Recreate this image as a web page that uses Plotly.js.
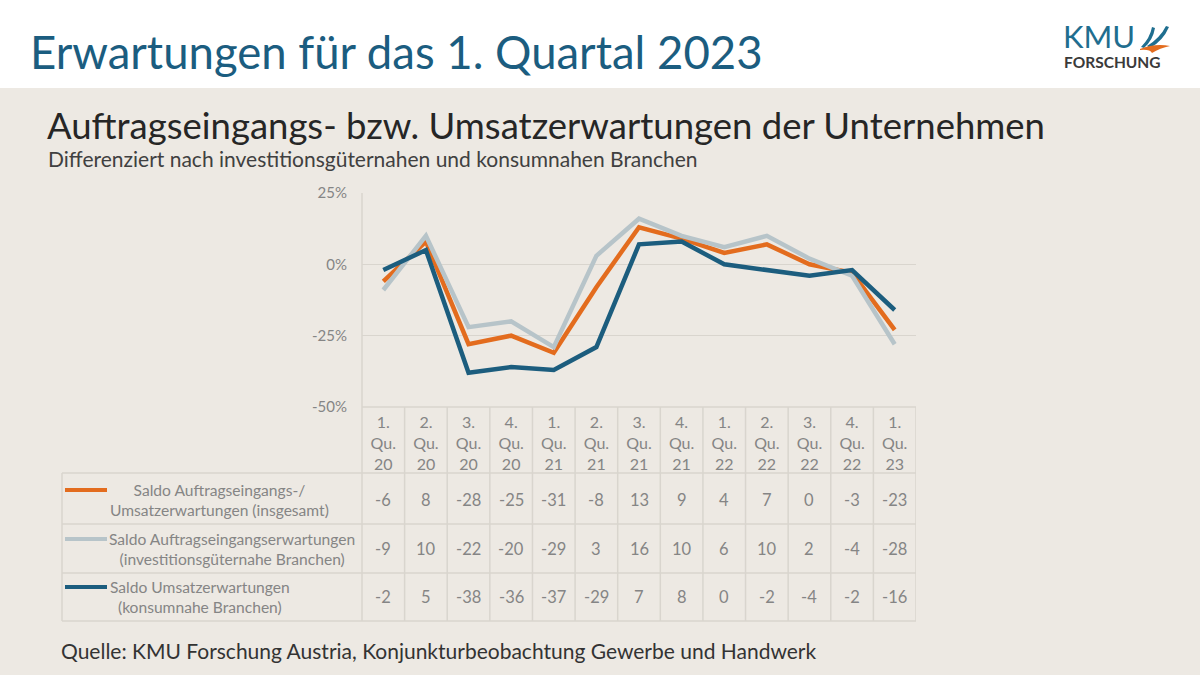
<!DOCTYPE html>
<html>
<head>
<meta charset="utf-8">
<script src="https://cdn.plot.ly/plotly-3.0.1.min.js"></script>
<style>
html,body{margin:0;padding:0;background:#ffffff;}
#chart{width:1200px;height:675px;}
</style>
</head>
<body>
<div id="chart"></div>
<script>
// ---- data ----
const quarters = ["1.<br>Qu.<br>20","2.<br>Qu.<br>20","3.<br>Qu.<br>20","4.<br>Qu.<br>20",
                  "1.<br>Qu.<br>21","2.<br>Qu.<br>21","3.<br>Qu.<br>21","4.<br>Qu.<br>21",
                  "1.<br>Qu.<br>22","2.<br>Qu.<br>22","3.<br>Qu.<br>22","4.<br>Qu.<br>22",
                  "1.<br>Qu.<br>23"];
const saldoGesamt = [-6, 8, -28, -25, -31, -8, 13, 9, 4, 7, 0, -3, -23];
const saldoInvest = [-9, 10, -22, -20, -29, 3, 16, 10, 6, 10, 2, -4, -28];
const saldoKonsum = [-2, 5, -38, -36, -37, -29, 7, 8, 0, -2, -4, -2, -16];
const seriesNames = [
  "Saldo Auftragseingangs-/<br>Umsatzerwartungen (insgesamt)",
  "Saldo Auftragseingangserwartungen<br>(investitionsgüternahe Branchen)",
  "Saldo Umsatzerwartungen<br>(konsumnahe Branchen)"
];
const yTicks = [-50, -25, 0, 25];
const yTickText = ["-50%", "-25%", "0%", "25%"];

// ---- styles ----
const W = 1200, H = 675;
const px = x => x / W;
const py = y => 1 - y / H;
const colors = ["#E36C1E", "#B7C4C9", "#1C5D7E"];
const series = [saldoGesamt, saldoInvest, saldoKonsum];
const gridCol = "#D9D5CE";
const txtGray = "#858585";
const font = "Lato, 'Open Sans', sans-serif";

const traces = series.map((s, i) => ({
  type: "scatter", mode: "lines",
  x: quarters, y: s, name: seriesNames[i],
  line: {color: colors[i], width: 4.5},
  hoverinfo: "skip", cliponaxis: false
}));

const shapes = [];
const annotations = [];

// background band
shapes.push({type:"rect", xref:"paper", yref:"paper", x0:0, x1:1, y0:0, y1:py(88),
  fillcolor:"#EDE9E3", line:{width:0}, layer:"below"});

// table horizontal lines
const rowLines = [473, 524, 573, 621];
rowLines.forEach(y => shapes.push({type:"line", xref:"paper", yref:"paper",
  x0:px(62), x1:px(916), y0:py(y), y1:py(y), line:{color:gridCol, width:1.5}}));
shapes.push({type:"line", xref:"paper", yref:"paper", x0:px(362), x1:px(916), y0:py(407), y1:py(407),
  line:{color:gridCol, width:1.5}});
shapes.push({type:"line", xref:"paper", yref:"paper", x0:px(62), x1:px(62), y0:py(473), y1:py(621),
  line:{color:gridCol, width:1.5}});
shapes.push({type:"line", xref:"paper", yref:"paper", x0:px(362), x1:px(362), y0:py(193), y1:py(621),
  line:{color:gridCol, width:1.5}});
for (let k = 0; k < quarters.length; k++) {
  shapes.push({type:"line", xref:"x", yref:"paper", x0:k+0.5, x1:k+0.5, y0:py(407), y1:py(621),
    line:{color:gridCol, width:1.5}});
}

// table values
const rowCenters = [500, 549, 597];
series.forEach((s, r) => {
  s.forEach((v, k) => {
    annotations.push({xref:"x", yref:"paper", x:quarters[k], y:py(rowCenters[r]),
      text:String(v), showarrow:false, font:{family:font, size:16.5, color:txtGray},
      xanchor:"center", yanchor:"middle"});
  });
});

// legend column labels + swatches
const labelX = [220, 232, 200];
seriesNames.forEach((n, r) => {
  annotations.push({xref:"paper", yref:"paper", x:px(labelX[r]), y:py(rowCenters[r]),
    text:n, showarrow:false, align:"center", font:{family:font, size:15.6, color:txtGray},
    xanchor:"center", yanchor:"middle"});
  shapes.push({type:"line", xref:"paper", yref:"paper",
    x0:px(65), x1:px(107), y0:py(rowCenters[r]-10), y1:py(rowCenters[r]-10),
    line:{color:colors[r], width:4}});
});

// titles
annotations.push({xref:"paper", yref:"paper", x:px(28), y:py(52), xanchor:"left", yanchor:"middle",
  text:"Erwartungen für das 1. Quartal 2023", showarrow:false,
  font:{family:font, size:45.5, color:"#1B5D80"}});
annotations.push({xref:"paper", yref:"paper", x:px(45), y:py(125), xanchor:"left", yanchor:"middle",
  text:"Auftragseingangs- bzw. Umsatzerwartungen der Unternehmen", showarrow:false,
  font:{family:font, size:36.5, color:"#262626"}});
annotations.push({xref:"paper", yref:"paper", x:px(46), y:py(158), xanchor:"left", yanchor:"middle",
  text:"Differenziert nach investitionsgüternahen und konsumnahen Branchen", showarrow:false,
  font:{family:font, size:21, color:"#404040"}});
annotations.push({xref:"paper", yref:"paper", x:px(59), y:py(650), xanchor:"left", yanchor:"middle",
  text:"Quelle: KMU Forschung Austria, Konjunkturbeobachtung Gewerbe und Handwerk", showarrow:false,
  font:{family:font, size:21, color:"#333333"}});

// logo
annotations.push({xref:"paper", yref:"paper", x:px(1061), y:py(36), xanchor:"left", yanchor:"middle",
  text:"KMU", showarrow:false, font:{family:font, size:31, color:"#1F6E8F"}});
annotations.push({xref:"paper", yref:"paper", x:px(1062), y:py(62), xanchor:"left", yanchor:"middle",
  text:"<b>FORSCHUNG</b>", showarrow:false, font:{family:font, size:15.5, color:"#3A3A3A"}});
shapes.push({type:"path", xref:"paper", yref:"paper",
  path:`M ${px(1141)} ${py(47)} Q ${px(1150)} ${py(38)} ${px(1152)} ${py(27)} L ${px(1155)} ${py(28)} Q ${px(1153)} ${py(40)} ${px(1144)} ${py(48)} Z`,
  fillcolor:"#1F6E8F", line:{width:0}});
shapes.push({type:"path", xref:"paper", yref:"paper",
  path:`M ${px(1147)} ${py(46)} Q ${px(1160)} ${py(38)} ${px(1166)} ${py(26)} L ${px(1169)} ${py(27)} Q ${px(1163)} ${py(41)} ${px(1150)} ${py(48)} Z`,
  fillcolor:"#1F6E8F", line:{width:0}});
shapes.push({type:"path", xref:"paper", yref:"paper",
  path:`M ${px(1140)} ${py(49)} Q ${px(1155)} ${py(43)} ${px(1170)} ${py(46)} Q ${px(1160)} ${py(48)} ${px(1152)} ${py(53)} Q ${px(1150)} ${py(49)} ${px(1140)} ${py(50)} Z`,
  fillcolor:"#E36C1E", line:{width:0}});

const layout = {
  width: W, height: H,
  margin: {l:0, r:0, t:0, b:0},
  paper_bgcolor: "#ffffff",
  plot_bgcolor: "rgba(0,0,0,0)",
  showlegend: false,
  font: {family: font, color: txtGray},
  xaxis: {
    domain: [px(362), px(916)],
    type: "category",
    range: [-0.5, quarters.length - 0.5],
    showgrid: false, zeroline: false, showline: false,
    ticks: "", ticklabelstandoff: 4,
    tickfont: {family: font, size: 16, color: txtGray}
  },
  yaxis: {
    domain: [py(407), py(193)],
    range: [-50, 25],
    tickmode: "array", tickvals: yTicks, ticktext: yTickText,
    showgrid: true, gridcolor: gridCol, gridwidth: 1.5,
    zeroline: false, showline: false,
    ticks: "", ticklabelstandoff: 14,
    tickfont: {family: font, size: 15, color: txtGray}
  },
  shapes: shapes,
  annotations: annotations
};

Plotly.newPlot("chart", traces, layout, {displayModeBar: false, staticPlot: true});
</script>
</body>
</html>
